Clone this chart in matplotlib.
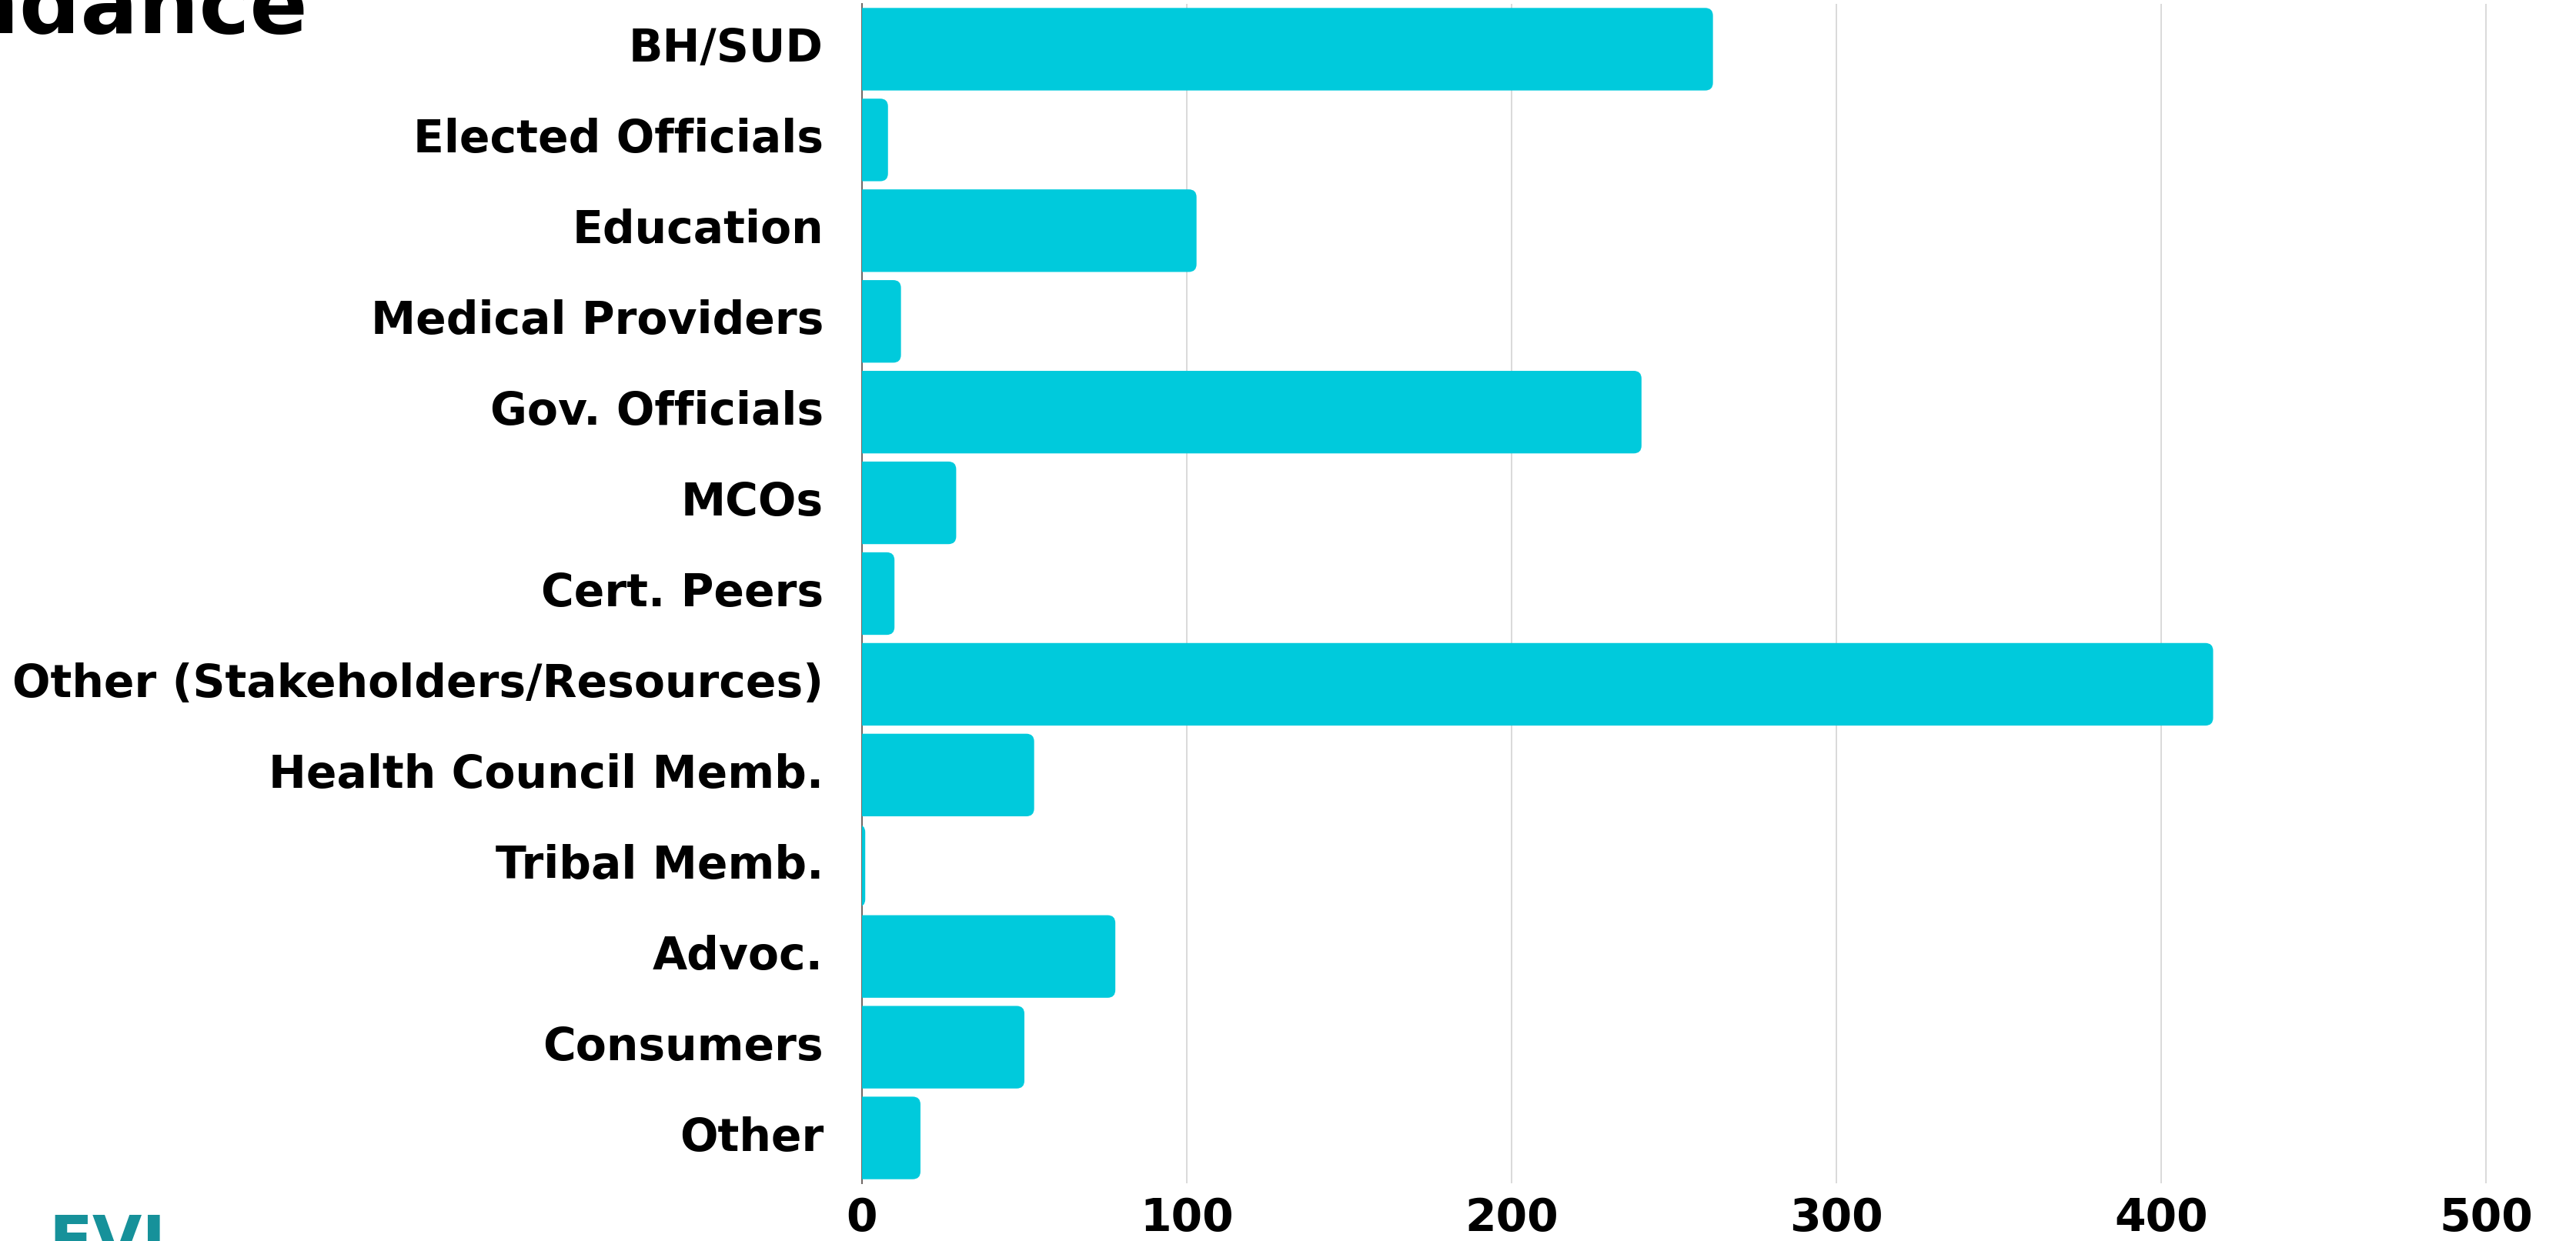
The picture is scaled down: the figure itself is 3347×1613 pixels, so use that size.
import matplotlib.pyplot as plt
from matplotlib.patches import FancyBboxPatch

CATEGORIES = [
    "BH/SUD",
    "Elected Officials",
    "Education",
    "Medical Providers",
    "Gov. Officials",
    "MCOs",
    "Cert. Peers",
    "Other (Stakeholders/Resources)",
    "Health Council Memb.",
    "Tribal Memb.",
    "Advoc.",
    "Consumers",
    "Other",
]
COUNTS = [262, 8, 103, 12, 240, 29, 10, 416, 53, 1, 78, 50, 18]
X_TICKS = [0, 100, 200, 300, 400, 500]

BAR_COLOR = "#00cadc"
GRID_COLOR = "#d0d0d0"
FONT = ["DejaVu Sans"]

W, H = 3347, 1613
fig = plt.figure(figsize=(W / 100, H / 100), dpi=100)
ax = fig.add_axes([1120 / W, 1 - 1538 / H, 1 - 1120 / W, (1538 - 5) / H])

ax.set_xlim(0, (W - 1120) / 4.22)
ax.set_ylim(len(CATEGORIES) - 0.5, -0.5)

# rounded right ends; left rounding is pushed below x=0 and clipped away
bar_h = 0.91
radius = 2.4
for i, value in enumerate(COUNTS):
    patch = FancyBboxPatch(
        (-radius, i - bar_h / 2),
        value + radius,
        bar_h,
        boxstyle=f"round,pad=0,rounding_size={radius}",
        mutation_aspect=0.085 / radius,
        facecolor=BAR_COLOR,
        edgecolor="none",
        zorder=3,
    )
    ax.add_patch(patch)

ax.set_yticks(range(len(CATEGORIES)))
ax.set_yticklabels(CATEGORIES)
ax.set_xticks(X_TICKS)
ax.set_xticklabels([str(t) for t in X_TICKS])

for label in ax.get_yticklabels() + ax.get_xticklabels():
    label.set_family(FONT)
    label.set_fontweight("bold")
    label.set_fontsize(42)
    label.set_color("black")
for label in ax.get_yticklabels():
    label.set_verticalalignment("center")

ax.tick_params(axis="y", length=0, pad=36)
ax.tick_params(axis="x", length=0, pad=12)

ax.grid(True, axis="x", color=GRID_COLOR, linewidth=1.1, zorder=0)
ax.grid(False, axis="y")
for side in ("top", "right", "bottom"):
    ax.spines[side].set_visible(False)
ax.spines["left"].set_color("#6b6461")
ax.spines["left"].set_linewidth(1.4)
ax.spines["left"].set_zorder(2)

# cropped title and logo from the original slide
fig.text(400 / W, 1 - 43 / H, "Attendance", ha="right", va="baseline",
         fontsize=80, fontweight="bold", family=FONT, color="black")
fig.text(63 / W, 1 - 1576 / H, "EVI", ha="left", va="top",
         fontsize=60, fontweight="bold", family=FONT, color="#16919a")

fig.savefig("out.png", dpi=100)
